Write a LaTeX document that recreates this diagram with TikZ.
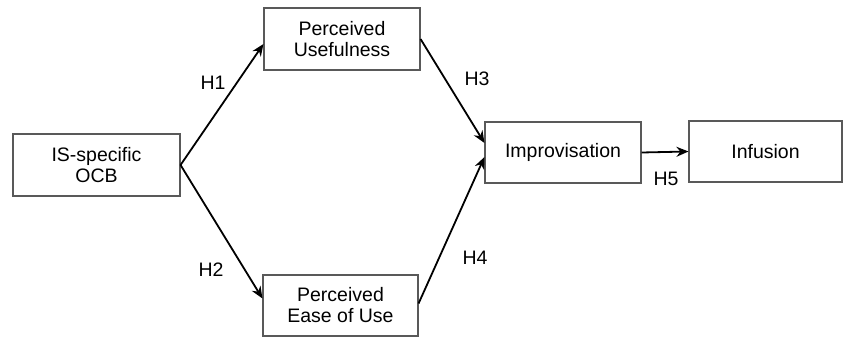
\documentclass[tikz,border=0pt]{standalone}
\usepackage{fontspec}
\setmainfont{Liberation Sans}
\usetikzlibrary{arrows.meta,calc}
\begin{document}
\begin{tikzpicture}[x=1pt,y=-1pt,
  box/.style={draw=black!65,line width=1.1pt,rectangle,inner sep=0pt,align=center,
    font=\fontsize{19.5}{21}\selectfont},
  link/.style={line width=1.8pt,-{Stealth[length=12pt,width=10pt]}},
  lbl/.style={font=\fontsize{19.5}{21}\selectfont,inner sep=0pt}]
\useasboundingbox (0,0) rectangle (844,337);
\node[box,minimum width=167pt,minimum height=62pt] (ocb) at (96.5,165) {IS-specific\\OCB};
\node[box,minimum width=156pt,minimum height=62pt] (pu) at (342,39) {Perceived\\Usefulness};
\node[box,minimum width=155pt,minimum height=61pt] (peu) at (340.5,305.5) {Perceived\\Ease of Use};
\node[box,minimum width=156pt,minimum height=61pt] (imp) at (563,152.5) {Improvisation};
\node[box,minimum width=153pt,minimum height=61pt] (inf) at (765.5,151.5) {Infusion};
\draw[link] (ocb.east) -- ($(pu.west)+(0,5)$);
\draw[link] (ocb.east) -- ($(peu.west)+(0,-7)$);
\draw[link] (pu.east) -- ($(imp.west)+(0,-9.5)$);
\draw[link] ($(peu.east)+(0,-2)$) -- ($(imp.west)+(0,4.5)$);
\draw[link] (imp.east) -- (inf.west);
\node[lbl] (h1) at (213,83) {H1};
\node[lbl] (h2) at (211,270) {H2};
\node[lbl] (h3) at (477,79) {H3};
\node[lbl] (h4) at (475,258) {H4};
\node[lbl] (h5) at (666,179) {H5};
\end{tikzpicture}
\end{document}
